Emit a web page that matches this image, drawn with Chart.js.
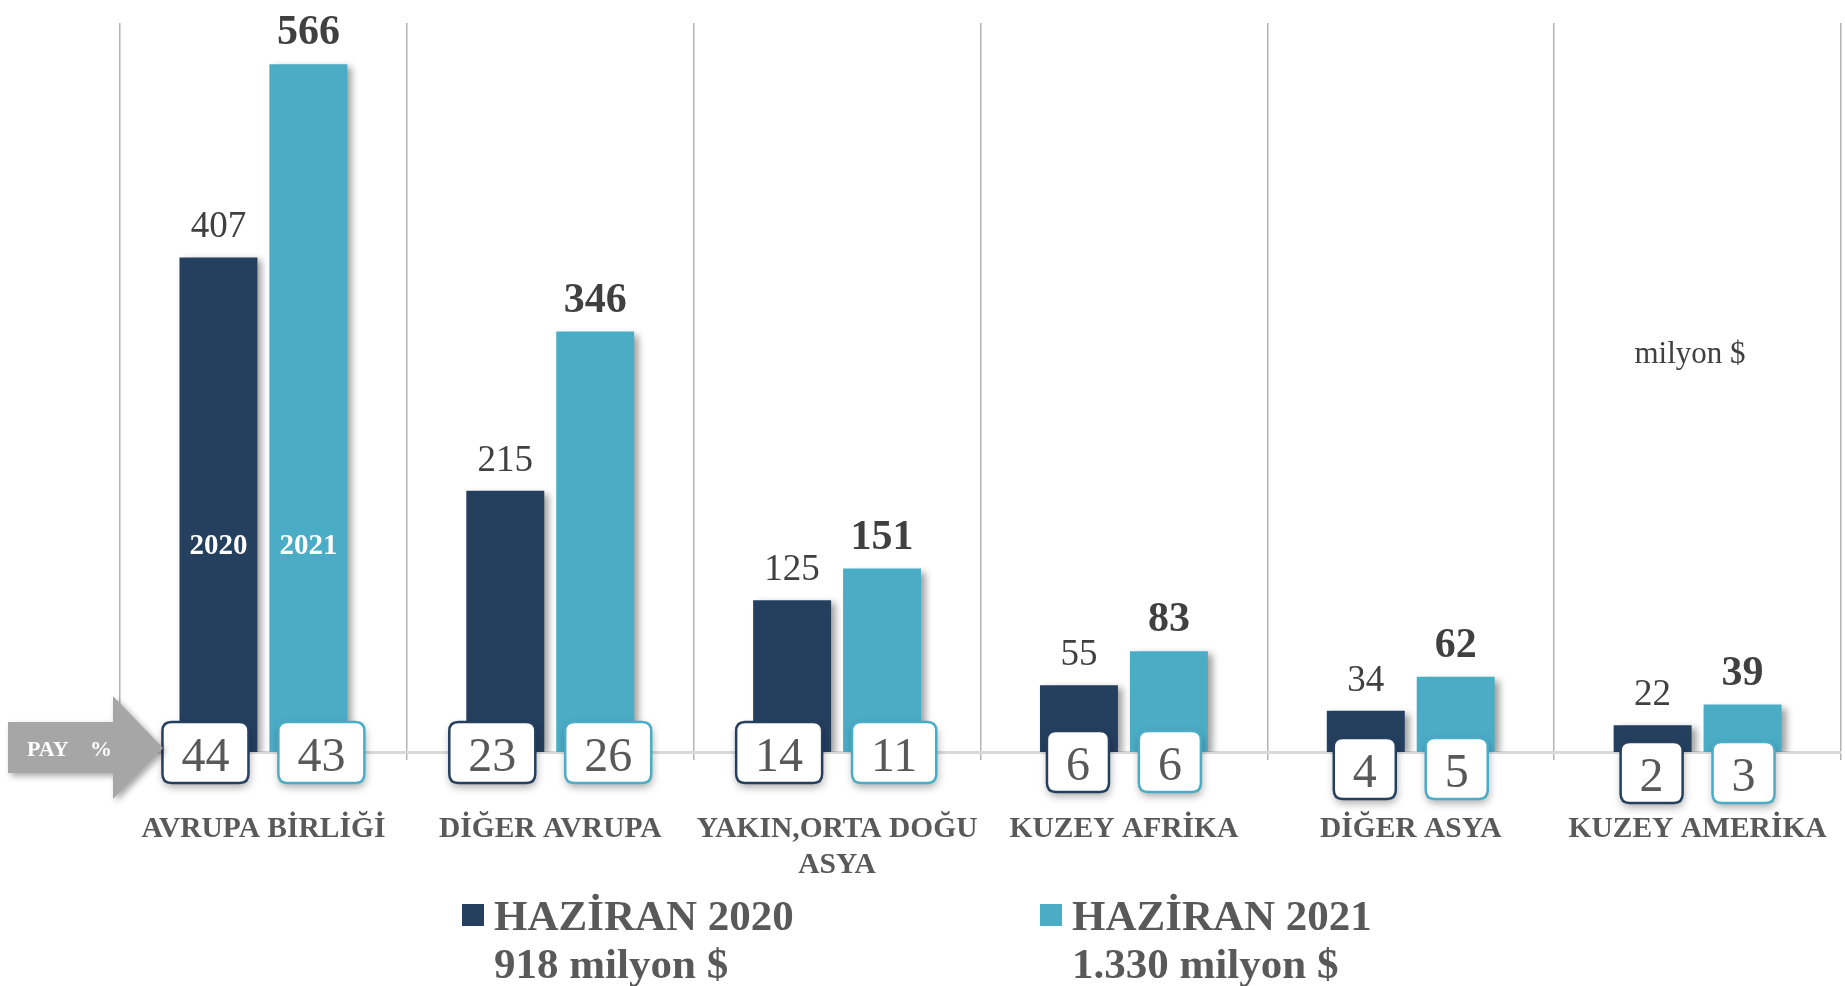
<!DOCTYPE html>
<html><head><meta charset="utf-8">
<script src="https://cdn.jsdelivr.net/npm/chart.js@4/dist/chart.umd.min.js"></script>
<style>html,body{margin:0;padding:0;background:#fff;overflow:hidden}</style>
</head><body>
<canvas id="c" width="1845" height="986"></canvas>
<script>
// ---- data ----
const categories = [["AVRUPA BİRLİĞİ"], ["DİĞER AVRUPA"], ["YAKIN,ORTA DOĞU", "ASYA"], ["KUZEY AFRİKA"], ["DİĞER ASYA"], ["KUZEY AMERİKA"]];
const values2020 = [407, 215, 125, 55, 34, 22];
const values2021 = [566, 346, 151, 83, 62, 39];
const share2020 = [44, 23, 14, 6, 4, 2];
const share2021 = [43, 26, 11, 6, 5, 3];
const seriesNames = ["HAZİRAN 2020", "HAZİRAN 2021"];
const seriesTotals = ["918 milyon $", "1.330 milyon $"];
const innerLabels = ["2020", "2021"];
const unitLabel = "milyon $";
const shareLabel = ["PAY", "%"];

// ---- style ----
const SERIF = "'Liberation Serif','Times New Roman',serif";
const DARK = '#253F5F';
const LIGHT = '#4BACC6';
const boxTopOffsets = [-30, -30, -30, -21, -14, -10];

function roundRect(ctx, x, y, w, h, r) {
  ctx.beginPath();
  ctx.moveTo(x + r, y);
  ctx.lineTo(x + w - r, y);
  ctx.quadraticCurveTo(x + w, y, x + w, y + r);
  ctx.lineTo(x + w, y + h - r);
  ctx.quadraticCurveTo(x + w, y + h, x + w - r, y + h);
  ctx.lineTo(x + r, y + h);
  ctx.quadraticCurveTo(x, y + h, x, y + h - r);
  ctx.lineTo(x, y + r);
  ctx.quadraticCurveTo(x, y, x + r, y);
  ctx.closePath();
}

const decor = {
  id: 'decor',
  beforeDatasetsDraw(chart) {
    const ctx = chart.ctx;
    ctx.save();
    ctx.shadowColor = 'rgba(0,0,0,0.38)';
    ctx.shadowBlur = 7;
    ctx.shadowOffsetX = 5;
    ctx.shadowOffsetY = 3;
  },
  afterDatasetsDraw(chart) {
    const ctx = chart.ctx;
    ctx.restore();
    const metas = [chart.getDatasetMeta(0), chart.getDatasetMeta(1)];
    const bottom = chart.chartArea.bottom;
    const colors = [DARK, LIGHT];

    // value labels above bars
    metas.forEach((meta, d) => {
      meta.data.forEach((bar, i) => {
        ctx.save();
        ctx.fillStyle = '#404040';
        ctx.textAlign = 'center';
        ctx.textBaseline = 'alphabetic';
        ctx.font = d === 0 ? `37px ${SERIF}` : `bold 42px ${SERIF}`;
        const v = chart.data.datasets[d].data[i];
        ctx.fillText(String(v), bar.x, bar.y - 20);
        ctx.restore();
      });
    });

    // inner year labels in first category
    metas.forEach((meta, d) => {
      const bar = meta.data[0];
      ctx.save();
      ctx.fillStyle = '#ffffff';
      ctx.font = `bold 29px ${SERIF}`;
      ctx.textAlign = 'center';
      ctx.textBaseline = 'middle';
      ctx.fillText(innerLabels[d], bar.x, bottom - 205);
      ctx.restore();
    });

    // share boxes
    const shares = [share2020, share2021];
    metas.forEach((meta, d) => {
      meta.data.forEach((bar, i) => {
        const txt = String(shares[d][i]);
        ctx.save();
        ctx.font = `48px ${SERIF}`;
        const tw = ctx.measureText(txt).width;
        const w = Math.max(60, tw + 38);
        const h = 61;
        const x = d === 0 ? bar.x + 30 - w : bar.x - 30;
        const y = bottom + boxTopOffsets[i];
        ctx.shadowColor = 'rgba(0,0,0,0.35)';
        ctx.shadowBlur = 8;
        ctx.shadowOffsetX = 1;
        ctx.shadowOffsetY = 4;
        roundRect(ctx, x, y, w, h, 9);
        ctx.fillStyle = '#ffffff';
        ctx.fill();
        ctx.shadowColor = 'transparent';
        ctx.lineWidth = 2.5;
        ctx.strokeStyle = colors[d];
        ctx.stroke();
        ctx.fillStyle = '#595959';
        ctx.textAlign = 'center';
        ctx.textBaseline = 'alphabetic';
        ctx.fillText(txt, x + w / 2, y + 49);
        ctx.restore();
      });
    });

    // PAY % arrow
    ctx.save();
    ctx.shadowColor = 'rgba(0,0,0,0.35)';
    ctx.shadowBlur = 6;
    ctx.shadowOffsetX = 3;
    ctx.shadowOffsetY = 3;
    ctx.fillStyle = '#A6A6A6';
    ctx.beginPath();
    ctx.moveTo(8, 722);
    ctx.lineTo(113, 722);
    ctx.lineTo(113, 696);
    ctx.lineTo(163, 748);
    ctx.lineTo(113, 799);
    ctx.lineTo(113, 773);
    ctx.lineTo(8, 773);
    ctx.closePath();
    ctx.fill();
    ctx.restore();
    ctx.save();
    ctx.fillStyle = '#ffffff';
    ctx.font = `bold 22px ${SERIF}`;
    ctx.textBaseline = 'alphabetic';
    ctx.textAlign = 'left';
    ctx.fillText(shareLabel[0], 27, 756);
    ctx.fillText(shareLabel[1], 90, 756);
    ctx.restore();

    // unit label
    ctx.save();
    ctx.fillStyle = '#404040';
    ctx.font = `31px ${SERIF}`;
    ctx.textAlign = 'center';
    ctx.textBaseline = 'middle';
    ctx.fillText(unitLabel, 1690, 355);
    ctx.restore();

    // legend
    const legendX = [462, 1040];
    ctx.save();
    for (let d = 0; d < 2; d++) {
      ctx.fillStyle = colors[d];
      ctx.fillRect(legendX[d], 904, 22, 22);
      ctx.fillStyle = '#595959';
      ctx.font = `bold 43px ${SERIF}`;
      ctx.textAlign = 'left';
      ctx.textBaseline = 'alphabetic';
      ctx.fillText(seriesNames[d], legendX[d] + 32, 930);
      ctx.fillText(seriesTotals[d], legendX[d] + 32, 978);
    }
    ctx.restore();
  }
};

new Chart(document.getElementById('c'), {
  type: 'bar',
  data: {
    labels: categories,
    datasets: [
      { label: seriesNames[0], data: values2020, backgroundColor: DARK, categoryPercentage: 0.627, barPercentage: 0.867 },
      { label: seriesNames[1], data: values2021, backgroundColor: LIGHT, categoryPercentage: 0.627, barPercentage: 0.867 }
    ]
  },
  options: {
    responsive: false,
    animation: false,
    devicePixelRatio: 1,
    layout: { padding: { left: 120, right: 4, top: 23, bottom: 111 } },
    plugins: { legend: { display: false }, tooltip: { enabled: false } },
    scales: {
      x: {
        offset: true,
        grid: { display: true, offset: true, color: '#B3B3B3', lineWidth: 1.5, drawTicks: true, tickLength: 8 },
        border: { display: true, color: '#D9D9D9', width: 3 },
        ticks: {
          autoSkip: false, maxRotation: 0, minRotation: 0, padding: 52,
          color: '#595959',
          font: { family: SERIF, size: 29.5, weight: 'bold', lineHeight: 1.2 }
        },
        afterFit(scale) {
          scale.height = 123;
          scale.paddingLeft = 0;
          scale.paddingRight = 0;
          scale.paddingTop = 0;
          scale.paddingBottom = 0;
        }
      },
      y: { display: false, min: 0, max: 600, beginAtZero: true }
    }
  },
  plugins: [decor]
});
</script>
</body></html>
